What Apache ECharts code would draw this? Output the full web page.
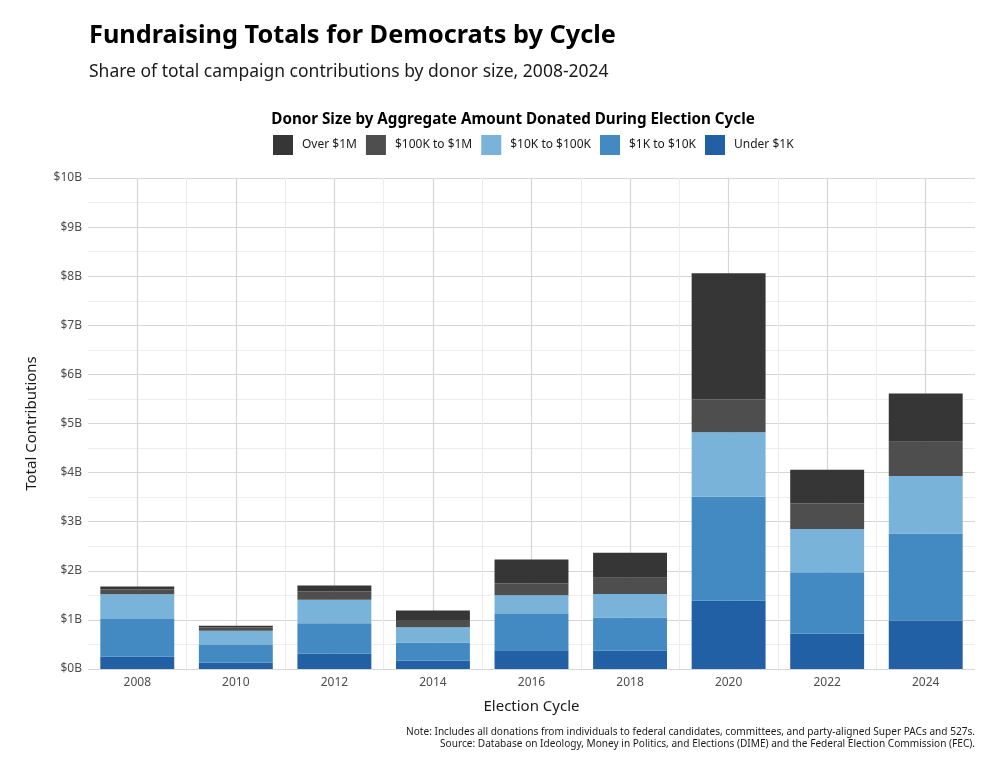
<!DOCTYPE html>
<html>
<head>
<meta charset="utf-8">
<script src="https://cdn.jsdelivr.net/npm/echarts@6/dist/echarts.min.js"></script>
<style>
html,body{margin:0;padding:0;background:#fff;}
#chart{width:1000px;height:773px;}
</style>
</head>
<body>
<div id="chart"></div>
<script>
const categories = ['2008','2010','2012','2014','2016','2018','2020','2022','2024'];
const under1K   = [0.25,0.13,0.31,0.17,0.38,0.37,1.39,0.72,0.99];
const k1to10K   = [0.77,0.36,0.62,0.37,0.74,0.68,2.12,1.25,1.77];
const k10to100K = [0.50,0.29,0.48,0.31,0.38,0.48,1.31,0.88,1.17];
const k100to1M  = [0.10,0.07,0.17,0.15,0.24,0.33,0.67,0.52,0.70];
const over1M    = [0.06,0.03,0.12,0.19,0.49,0.51,2.57,0.69,0.98];
const yTicks = [0,1,2,3,4,5,6,7,8,9,10];

const seriesDefs = [
  {name:'Under $1K', data:under1K, color:'#2260a6'},
  {name:'$1K to $10K', data:k1to10K, color:'#438ac3'},
  {name:'$10K to $100K', data:k10to100K, color:'#79b3d9'},
  {name:'$100K to $1M', data:k100to1M, color:'#4e4e4e'},
  {name:'Over $1M', data:over1M, color:'#363636'}
];

const font = 'Noto Sans';
const chart = echarts.init(document.getElementById('chart'), null, {renderer:'canvas'});
chart.setOption({
  backgroundColor:'#fff',
  animation:false,
  textStyle:{fontFamily:font},
  title:[
    {text:'Fundraising Totals for Democrats by Cycle', left:84, top:18,
     textStyle:{fontFamily:font, fontSize:25.3, fontWeight:'bold', color:'#000'}},
    {text:'Share of total campaign contributions by donor size, 2008-2024', left:84, top:58,
     textStyle:{fontFamily:font, fontSize:17.5, fontWeight:'normal', color:'#1a1a1a'}},
    {text:'Donor Size by Aggregate Amount Donated During Election Cycle', left:508, top:107, textAlign:'center',
     textStyle:{fontFamily:font, fontSize:15.2, fontWeight:'bold', color:'#000'}},
    {text:'Note: Includes all donations from individuals to federal candidates, committees, and party-aligned Super PACs and 527s.\nSource: Database on Ideology, Money in Politics, and Elections (DIME) and the Federal Election Commission (FEC).',
     left:970, top:721, textAlign:'right',
     textStyle:{fontFamily:font, fontSize:10.1, fontWeight:'normal', color:'#1a1a1a', lineHeight:12, align:'right'}}
  ],
  legend:{
    data:['Over $1M','$100K to $1M','$10K to $100K','$1K to $10K','Under $1K'],
    left:268, top:130, itemWidth:20, itemHeight:20, itemGap:9,
    icon:'rect',
    textStyle:{fontFamily:font, fontSize:12, color:'#1a1a1a', padding:[0,0,0,4]}
  },
  grid:{left:88, right:25, top:178, bottom:104, containLabel:false},
  xAxis:[
    {type:'category', data:categories,
     axisLine:{show:false}, axisTick:{show:false}, splitLine:{show:false},
     axisLabel:{fontFamily:font, fontSize:12, color:'#4d4d4d', margin:8},
     name:'Election Cycle', nameLocation:'middle', nameGap:30,
     nameTextStyle:{fontFamily:font, fontSize:15, color:'#1a1a1a'}},
    {type:'value', min:0, max:9, interval:1, show:true, position:'bottom',
     axisLine:{show:false}, axisTick:{show:false}, axisLabel:{show:false},
     splitLine:{show:true, showMinLine:false, showMaxLine:false, lineStyle:{color:'#ededed', width:1}},
     minorTick:{show:false, splitNumber:2},
     minorSplitLine:{show:true, lineStyle:{color:'#d6d6d6', width:1.2}}}
  ],
  yAxis:{
    type:'value', min:yTicks[0], max:yTicks[yTicks.length-1], interval:1,
    axisLine:{show:false}, axisTick:{show:false},
    axisLabel:{fontFamily:font, fontSize:12, color:'#4d4d4d', margin:6, formatter:v=>'$'+v+'B'},
    splitLine:{lineStyle:{color:'#d6d6d6', width:1.2}},
    minorTick:{show:false, splitNumber:2},
    minorSplitLine:{show:true, lineStyle:{color:'#ededed', width:1}},
    name:'Total Contributions', nameLocation:'middle', nameGap:49, nameRotate:90,
    nameTextStyle:{fontFamily:font, fontSize:15, color:'#1a1a1a'}
  },
  series: seriesDefs.map(s=>({
    name:s.name, type:'bar', stack:'total', xAxisIndex:0, data:s.data,
    barWidth:'75%', itemStyle:{color:s.color}, z:3
  }))
});
</script>
</body>
</html>
